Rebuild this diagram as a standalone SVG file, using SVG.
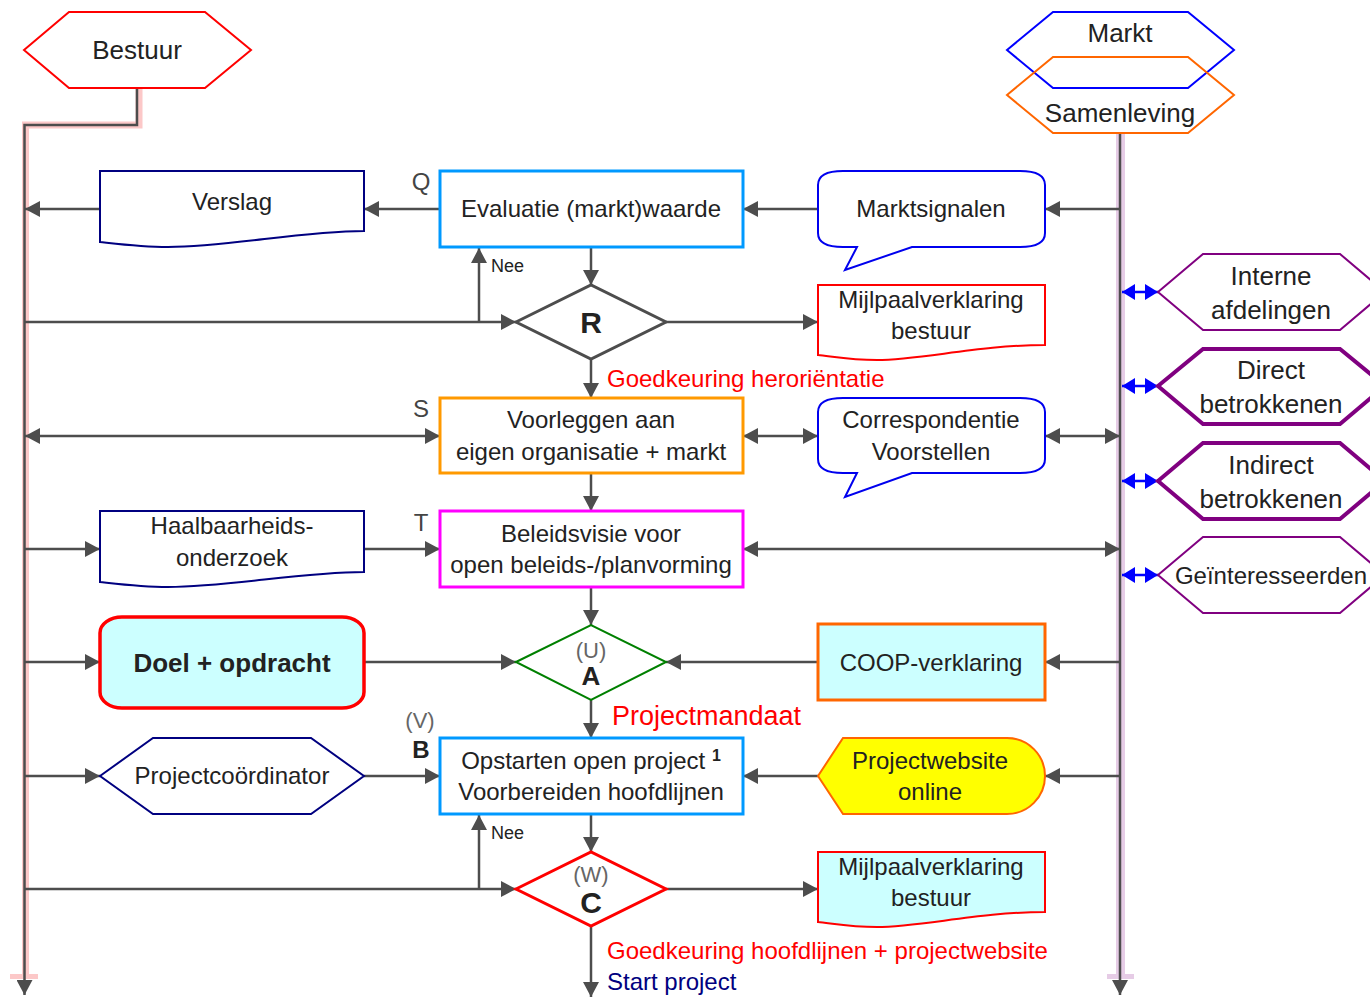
<svg xmlns="http://www.w3.org/2000/svg" width="1370" height="997" viewBox="0 0 1370 997">
<style>
text{font-family:"Liberation Sans",Arial,sans-serif;fill:#222;}
.t24{font-size:24px;text-anchor:middle;}
.t26{font-size:26px;text-anchor:middle;}
.lbl{font-size:24px;fill:#444;text-anchor:middle;}
.red{fill:#ff0000;font-size:24px;}
.c{stroke:#4d4d4d;stroke-width:2.5;fill:none;}
.e{marker-end:url(#ah);}
.b{marker-start:url(#ah);marker-end:url(#ah);}
.bl{stroke:#0000ff;stroke-width:2.5;fill:none;marker-start:url(#bh);marker-end:url(#bh);}
.box{fill:#fff;stroke-width:3;}
.doc{stroke-width:2;}
.hexp{fill:#fff;stroke:#800080;}
</style>
<defs>
<marker id="ah" viewBox="0 0 15 16" refX="15" refY="8" markerWidth="15" markerHeight="16" markerUnits="userSpaceOnUse" orient="auto-start-reverse"><path d="M0,0 L15,8 L0,16 z" fill="#4d4d4d"/></marker>
<marker id="bh" viewBox="0 0 13 16" refX="13" refY="8" markerWidth="13" markerHeight="16" markerUnits="userSpaceOnUse" orient="auto-start-reverse"><path d="M0,0 L13,8 L0,16 z" fill="#0000ff"/></marker>
</defs>
<rect width="1370" height="997" fill="#fff"/>

<g id="highlights">
<polyline points="139,88 139,125 25.5,125 25.5,978" fill="none" stroke="#fcc8c8" stroke-width="7"/>
<rect x="10" y="974" width="28" height="5" fill="#fcc8c8"/>
<line x1="1120.5" y1="133" x2="1120.5" y2="978" stroke="#e6cce6" stroke-width="9"/>
<rect x="1107" y="974" width="27" height="5" fill="#e6cce6"/>
</g>

<g id="connectors">
<polyline class="c e" points="137,88 137,125 24.5,125 24.5,995"/>
<line class="c e" x1="1120" y1="133" x2="1120" y2="995"/>
<line class="c e" x1="440" y1="209" x2="364" y2="209"/>
<line class="c e" x1="100" y1="209" x2="25" y2="209"/>
<line class="c e" x1="818" y1="209" x2="743" y2="209"/>
<line class="c e" x1="1120" y1="209" x2="1045" y2="209"/>
<line class="c e" x1="591" y1="247" x2="591" y2="285"/>
<line class="c e" x1="25" y1="322" x2="516" y2="322"/>
<line class="c e" x1="479" y1="322" x2="479" y2="248"/>
<line class="c e" x1="666" y1="322" x2="818" y2="322"/>
<line class="c e" x1="591" y1="359" x2="591" y2="398"/>
<line class="c b" x1="25" y1="436" x2="440" y2="436"/>
<line class="c b" x1="743" y1="436" x2="818" y2="436"/>
<line class="c b" x1="1045" y1="436" x2="1120" y2="436"/>
<line class="c e" x1="591" y1="473" x2="591" y2="511"/>
<line class="c e" x1="25" y1="549" x2="100" y2="549"/>
<line class="c e" x1="364" y1="549" x2="440" y2="549"/>
<line class="c b" x1="743" y1="549" x2="1120" y2="549"/>
<line class="c e" x1="591" y1="587" x2="591" y2="625"/>
<line class="c e" x1="25" y1="662" x2="100" y2="662"/>
<line class="c e" x1="364" y1="662" x2="516" y2="662"/>
<line class="c e" x1="818" y1="662" x2="666" y2="662"/>
<line class="c e" x1="1120" y1="662" x2="1045" y2="662"/>
<line class="c e" x1="591" y1="700" x2="591" y2="738"/>
<line class="c e" x1="25" y1="776" x2="100" y2="776"/>
<line class="c e" x1="364" y1="776" x2="440" y2="776"/>
<line class="c e" x1="818" y1="776" x2="743" y2="776"/>
<line class="c e" x1="1120" y1="776" x2="1045" y2="776"/>
<line class="c e" x1="591" y1="814" x2="591" y2="852"/>
<line class="c e" x1="25" y1="889" x2="516" y2="889"/>
<line class="c e" x1="479" y1="889" x2="479" y2="815"/>
<line class="c e" x1="666" y1="889" x2="818" y2="889"/>
<line class="c e" x1="591" y1="926" x2="591" y2="997"/>
<line class="bl" x1="1122" y1="292" x2="1158" y2="292"/>
<line class="bl" x1="1122" y1="386" x2="1158" y2="386"/>
<line class="bl" x1="1122" y1="481" x2="1158" y2="481"/>
<line class="bl" x1="1122" y1="575" x2="1158" y2="575"/>
</g>

<g id="bestuur">
<polygon points="24,50 69,12 205,12 251,50 205,88 69,88" fill="#fff" stroke="#ff0000" stroke-width="2"/>
<text class="t26" x="137" y="59">Bestuur</text>
</g>

<g id="markt">
<polygon points="1007,50 1053,12 1188,12 1234,50 1188,88 1053,88" fill="none" stroke="#0000ff" stroke-width="2"/>
<text class="t26" x="1120" y="42">Markt</text>
</g>
<g id="samenleving">
<polygon points="1007,95 1053,57 1188,57 1234,95 1188,133 1053,133" fill="none" stroke="#ff6600" stroke-width="2"/>
<text class="t26" x="1120" y="122">Samenleving</text>
</g>

<g id="verslag">
<path d="M100,171 H364 V231 C300,231 230,247 168,247 C140,247 110,243 100,242 Z" fill="#fff" stroke="#000080" class="doc"/>
<text class="t24" x="232" y="210">Verslag</text>
</g>

<g id="label-q"><text class="lbl" x="421" y="190">Q</text></g>

<g id="evaluatie">
<rect class="box" x="440" y="171" width="303" height="76" stroke="#0099ff"/>
<text class="t24" x="591" y="217">Evaluatie (markt)waarde</text>
</g>

<g id="marktsignalen">
<path d="M843,171 H1020 Q1045,171 1045,185 V233 Q1045,247 1020,247 H912 L845,270 L857,247 H843 Q818,247 818,233 V185 Q818,171 843,171 Z" fill="#fff" stroke="#0000ee" stroke-width="2"/>
<text class="t24" x="931" y="217">Marktsignalen</text>
</g>

<g id="nee1"><text x="491" y="272" style="font-size:18px">Nee</text></g>

<g id="r">
<polygon points="516,322 591,285 666,322 591,359" fill="#fff" stroke="#4d4d4d" stroke-width="3"/>
<text x="591" y="333" style="font-size:30px;font-weight:bold;text-anchor:middle">R</text>
</g>

<g id="mijlpaal1">
<path d="M818,285 H1045 V345 C980,345 920,360 877,360 C850,360 830,356 818,355 Z" fill="#fff" stroke="#ff0000" class="doc"/>
<text class="t24" x="931" y="308">Mijlpaalverklaring</text>
<text class="t24" x="931" y="339">bestuur</text>
</g>

<g id="goedkeuring1"><text class="red" x="607" y="387">Goedkeuring heroriëntatie</text></g>

<g id="label-s"><text class="lbl" x="421" y="417">S</text></g>

<g id="voorleggen">
<rect class="box" x="440" y="398" width="303" height="75" stroke="#ff9900"/>
<text class="t24" x="591" y="428">Voorleggen aan</text>
<text class="t24" x="591" y="460">eigen organisatie + markt</text>
</g>

<g id="correspondentie">
<path d="M843,398 H1020 Q1045,398 1045,412 V459 Q1045,473 1020,473 H912 L845,497 L857,473 H843 Q818,473 818,459 V412 Q818,398 843,398 Z" fill="#fff" stroke="#0000ee" stroke-width="2"/>
<text class="t24" x="931" y="428">Correspondentie</text>
<text class="t24" x="931" y="460">Voorstellen</text>
</g>

<g id="label-t"><text class="lbl" x="421" y="531">T</text></g>

<g id="haalbaarheid">
<path d="M100,511 H364 V572 C300,572 230,587 168,587 C140,587 110,583 100,582 Z" fill="#fff" stroke="#000080" class="doc"/>
<text class="t24" x="232" y="534">Haalbaarheids-</text>
<text class="t24" x="232" y="566">onderzoek</text>
</g>

<g id="beleidsvisie">
<rect class="box" x="440" y="511" width="303" height="76" stroke="#ff00ff"/>
<text class="t24" x="591" y="542">Beleidsvisie voor</text>
<text class="t24" x="591" y="573">open beleids-/planvorming</text>
</g>

<g id="doel">
<rect x="100" y="617" width="264" height="91" rx="22" ry="16" fill="#ccffff" stroke="#ff0000" stroke-width="3.5"/>
<text x="232" y="672" style="font-size:26px;font-weight:bold;text-anchor:middle">Doel + opdracht</text>
</g>

<g id="a">
<polygon points="516,662 591,625 666,662 591,700" fill="#fff" stroke="#008000" stroke-width="2"/>
<text x="591" y="658" style="font-size:22px;fill:#666;text-anchor:middle">(U)</text>
<text x="591" y="685" style="font-size:26px;font-weight:bold;text-anchor:middle">A</text>
</g>

<g id="coop">
<rect x="818" y="624" width="227" height="76" fill="#ccffff" stroke="#ff6600" stroke-width="3"/>
<text class="t24" x="931" y="671">COOP-verklaring</text>
</g>

<g id="projectmandaat"><text x="612" y="725" style="font-size:27px;fill:#ff0000">Projectmandaat</text></g>

<g id="label-vb">
<text x="420" y="728" style="font-size:22px;fill:#666;text-anchor:middle">(V)</text>
<text x="421" y="758" style="font-size:24px;font-weight:bold;text-anchor:middle">B</text>
</g>

<g id="projectcoordinator">
<polygon points="100,776 153,738 311,738 364,776 311,814 153,814" fill="#fff" stroke="#000080" stroke-width="2"/>
<text class="t24" x="232" y="784">Projectcoördinator</text>
</g>

<g id="opstarten">
<rect class="box" x="440" y="738" width="303" height="76" stroke="#0099ff"/>
<text class="t24" x="591" y="769">Opstarten open project <tspan style="font-size:16px;font-weight:bold" dy="-8">1</tspan></text>
<text class="t24" x="591" y="800">Voorbereiden hoofdlijnen</text>
</g>

<g id="projectwebsite">
<path d="M818,776 L843,738 H1007 A38,38 0 0 1 1007,814 H843 Z" fill="#ffff00" stroke="#ff6600" stroke-width="2"/>
<text class="t24" x="930" y="769">Projectwebsite</text>
<text class="t24" x="930" y="800">online</text>
</g>

<g id="nee2"><text x="491" y="839" style="font-size:18px">Nee</text></g>

<g id="c">
<polygon points="516,889 591,852 666,889 591,926" fill="#fff" stroke="#ff0000" stroke-width="3"/>
<text x="591" y="882" style="font-size:22px;fill:#666;text-anchor:middle">(W)</text>
<text x="591" y="913" style="font-size:30px;font-weight:bold;text-anchor:middle">C</text>
</g>

<g id="mijlpaal2">
<path d="M818,852 H1045 V912 C980,912 920,927 877,927 C850,927 830,923 818,922 Z" fill="#ccffff" stroke="#ff0000" class="doc"/>
<text class="t24" x="931" y="875">Mijlpaalverklaring</text>
<text class="t24" x="931" y="906">bestuur</text>
</g>

<g id="goedkeuring2"><text class="red" x="607" y="959">Goedkeuring hoofdlijnen + projectwebsite</text></g>
<g id="startproject"><text x="607" y="990" style="font-size:24px;fill:#000080">Start project</text></g>

<g id="interne">
<polygon class="hexp" points="1158,292 1203,254 1340,254 1385,292 1340,330 1203,330" stroke-width="2"/>
<text class="t26" x="1271" y="285">Interne</text>
<text class="t26" x="1271" y="319">afdelingen</text>
</g>
<g id="direct">
<polygon class="hexp" points="1158,386 1203,349 1340,349 1385,386 1340,424 1203,424" stroke-width="4"/>
<text class="t26" x="1271" y="379">Direct</text>
<text class="t26" x="1271" y="413">betrokkenen</text>
</g>
<g id="indirect">
<polygon class="hexp" points="1158,481 1203,443 1340,443 1385,481 1340,519 1203,519" stroke-width="4"/>
<text class="t26" x="1271" y="474">Indirect</text>
<text class="t26" x="1271" y="508">betrokkenen</text>
</g>
<g id="geinteresseerden">
<polygon class="hexp" points="1158,575 1203,537 1340,537 1385,575 1340,613 1203,613" stroke-width="2"/>
<text class="t24" x="1271" y="584">Geïnteresseerden</text>
</g>
</svg>
